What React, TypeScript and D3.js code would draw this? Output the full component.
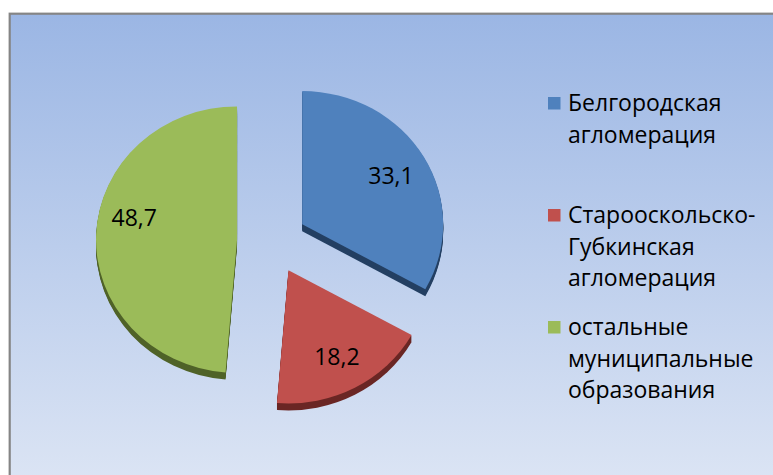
import React from "react";
import * as d3 from "d3";

const categories = [
  ["Белгородская", "агломерация"],
  ["Старооскольско-", "Губкинская", "агломерация"],
  ["остальные", "муниципальные", "образования"],
];
const values = [33.1, 18.2, 48.7];
const valueLabels = ["33,1", "18,2", "48,7"];

const topColors = ["#4F81BD", "#C0504D", "#9BBB59"];
const sideColors = ["#233F62", "#6A2624", "#4F6228"];
const labelNudgeY = [0, 0, -19];

const W = 773;
const H = 475;
const CX = 272;
const CY = 241;
const RX = 141;
const RATIO = 0.945;
const EXPLODE = 35;
const DEPTH = 7;
const FONT = "'Open Sans', sans-serif";
const FS = 23;

export default function App() {
  const pie = d3
    .pie<number>()
    .sort(null)
    .startAngle(0)
    .endAngle(2 * Math.PI)
    .value((d) => d);
  const arcs = pie(values);
  const arcGen = d3.arc<d3.PieArcDatum<number>>().innerRadius(0).outerRadius(RX);

  const slices = arcs.map((a, i) => {
    const mid = (a.startAngle + a.endAngle) / 2;
    const ux = Math.sin(mid);
    const uy = -Math.cos(mid);
    const ox = EXPLODE * ux;
    const oy = EXPLODE * uy * RATIO;
    const lr = RX * 0.73;
    return {
      i,
      d: arcGen(a) || "",
      ox,
      oy,
      lx: ox + lr * ux,
      ly: oy + lr * uy * RATIO + labelNudgeY[i],
    };
  });

  const legendX = 548;
  const legendTextX = 568;
  const legendFirstBaseline = 111;
  const legendSlot = 112;
  const lineH = 31.5;

  return (
    <svg
      width={W}
      height={H}
      style={{ position: "absolute", left: 0, top: 0, display: "block" }}
    >
      <defs>
        <linearGradient id="bg" x1="0" y1="0" x2="0" y2="1">
          <stop offset="0" stopColor="#9BB6E4" />
          <stop offset="1" stopColor="#DFE7F5" />
        </linearGradient>
      </defs>
      <rect x={0} y={0} width={W} height={H} fill="#FFFFFF" />
      <rect
        x={9.7}
        y={13.7}
        width={W + 20}
        height={H + 20}
        fill="url(#bg)"
        stroke="#858585"
        strokeWidth={2.2}
      />
      <g transform={`translate(${CX},${CY})`}>
        {slices.map((s) =>
          d3.range(1, DEPTH + 1).map((k) => (
            <path
              key={`side-${s.i}-${k}`}
              d={s.d}
              fill={sideColors[s.i]}
              transform={`translate(${s.ox},${s.oy + k}) scale(1,${RATIO})`}
            />
          ))
        )}
        {slices.map((s) => (
          <path
            key={`top-${s.i}`}
            d={s.d}
            fill={topColors[s.i]}
            transform={`translate(${s.ox},${s.oy}) scale(1,${RATIO})`}
          />
        ))}
        {slices.map((s) => (
          <text
            key={`lab-${s.i}`}
            x={s.lx}
            y={s.ly}
            textAnchor="middle"
            dominantBaseline="central"
            fontFamily={FONT}
            fontSize={FS}
            fill="#000"
          >
            {valueLabels[s.i]}
          </text>
        ))}
      </g>
      <g>
        {categories.map((lines, i) => {
          const base = legendFirstBaseline + i * legendSlot;
          return (
            <g key={`leg-${i}`}>
              <rect
                x={legendX}
                y={base - 14}
                width={12.5}
                height={12.5}
                fill={topColors[i]}
              />
              <text fontFamily={FONT} fontSize={FS} fill="#000">
                {lines.map((ln, j) => (
                  <tspan key={j} x={legendTextX} y={base + j * lineH}>
                    {ln}
                  </tspan>
                ))}
              </text>
            </g>
          );
        })}
      </g>
    </svg>
  );
}
